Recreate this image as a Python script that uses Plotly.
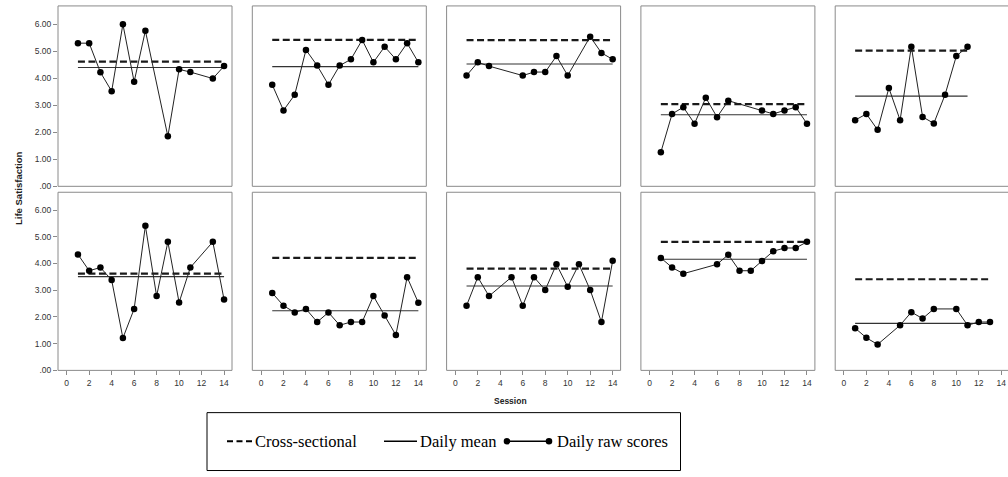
import plotly.graph_objects as go

# ---------------- data ----------------
sessions = [
    [1, 2, 3, 4, 5, 6, 7, 9, 10, 11, 13, 14],
    list(range(1, 15)),
    [1, 2, 3, 6, 7, 8, 9, 10, 12, 13, 14],
    [1, 2, 3, 4, 5, 6, 7, 10, 11, 12, 13, 14],
    list(range(1, 12)),
    [1, 2, 3, 4, 5, 6, 7, 8, 9, 10, 11, 13, 14],
    list(range(1, 15)),
    [1, 2, 3, 5, 6, 7, 8, 9, 10, 11, 12, 13, 14],
    [1, 2, 3, 6, 7, 8, 9, 10, 11, 12, 13, 14],
    [1, 2, 3, 5, 6, 7, 8, 10, 11, 12, 13],
]
raw_scores = [
    [5.30, 5.30, 4.22, 3.52, 6.00, 3.87, 5.76, 1.85, 4.33, 4.23, 3.99, 4.45],
    [3.76, 2.81, 3.39, 5.05, 4.47, 3.76, 4.47, 4.70, 5.42, 4.59, 5.17, 4.70, 5.30, 4.59],
    [4.10, 4.59, 4.45, 4.10, 4.23, 4.23, 4.82, 4.10, 5.54, 4.94, 4.70],
    [1.26, 2.68, 2.93, 2.32, 3.28, 2.56, 3.17, 2.81, 2.68, 2.81, 2.93, 2.32],
    [2.45, 2.68, 2.09, 3.64, 2.45, 5.17, 2.57, 2.33, 3.39, 4.82, 5.17],
    [4.34, 3.73, 3.85, 3.38, 1.21, 2.30, 5.41, 2.78, 4.81, 2.54, 3.85, 4.81, 2.65],
    [2.90, 2.42, 2.17, 2.30, 1.81, 2.17, 1.69, 1.81, 1.81, 2.78, 2.05, 1.32, 3.49, 2.53],
    [2.42, 3.49, 2.78, 3.49, 2.42, 3.49, 3.01, 3.97, 3.13, 3.97, 3.01, 1.81, 4.10],
    [4.21, 3.85, 3.62, 3.97, 4.33, 3.73, 3.73, 4.09, 4.46, 4.58, 4.58, 4.81],
    [1.58, 1.22, 0.97, 1.69, 2.18, 1.94, 2.30, 2.30, 1.69, 1.81, 1.81],
]
cross_sectional = [4.62, 5.42, 5.41, 3.04, 5.02, 3.62, 4.21, 3.81, 4.81, 3.41]
daily_mean = [4.40, 4.43, 4.53, 2.65, 3.34, 3.51, 2.23, 3.16, 4.16, 1.76]

y_ticks = [0, 1, 2, 3, 4, 5, 6]
y_tick_labels = [".00", "1.00", "2.00", "3.00", "4.00", "5.00", "6.00"]
x_ticks = [0, 2, 4, 6, 8, 10, 12, 14]

# ---------------- layout geometry ----------------
W, H = 1008, 477
def px(x):
    return x / W
def py(y):
    return 1 - y / H

BOX_GRAY = "#8a8a8a"
TICK_FONT = dict(family="Liberation Sans, Arial, sans-serif", size=8.5, color="#333333")

col_left = [58 + c * 194.3 for c in range(5)]
box_w = 174
row_top = [6, 194.3]
row_bot = [188.3, 374.3]
x_off = 8.7          # pixel offset of session 0 from box left
x_scale = 11.24      # px per session
y_scale = [27.3, 27.0]

fig = go.Figure()
layout = dict(
    width=W, height=H, margin=dict(l=0, r=0, t=0, b=0),
    paper_bgcolor="white", plot_bgcolor="white", showlegend=False,
)
shapes = []
annotations = []

for i in range(10):
    r, c = divmod(i, 5)
    L = col_left[c]
    R = L + box_w
    Rd = min(R, W)
    xr = [-x_off / x_scale, (Rd - L - x_off) / x_scale]
    yr = [0, (row_bot[r] - row_top[r]) / y_scale[r]]
    xk = "xaxis" if i == 0 else f"xaxis{i+1}"
    yk = "yaxis" if i == 0 else f"yaxis{i+1}"
    xa = "x" if i == 0 else f"x{i+1}"
    ya = "y" if i == 0 else f"y{i+1}"
    layout[xk] = dict(
        domain=[px(L), px(Rd)], range=xr, anchor=ya,
        showgrid=False, zeroline=False, showline=False,
        tickvals=x_ticks if r == 1 else [],
        ticks="outside" if r == 1 else "", ticklen=4, tickcolor=BOX_GRAY,
        tickfont=TICK_FONT, showticklabels=(r == 1), fixedrange=True,
        ticklabeloverflow="allow",
    )
    layout[yk] = dict(
        domain=[py(row_bot[r]), py(row_top[r])], range=yr, anchor=xa,
        showgrid=False, zeroline=False, showline=False,
        tickvals=y_ticks if c == 0 else [], ticktext=y_tick_labels if c == 0 else None,
        ticks="outside" if c == 0 else "", ticklen=4, tickcolor=BOX_GRAY,
        tickfont=TICK_FONT, showticklabels=(c == 0), fixedrange=True,
    )
    shapes.append(dict(type="rect", xref="paper", yref="paper",
                       x0=px(L), x1=px(R + 2 if c == 4 else R),
                       y0=py(row_bot[r]), y1=py(row_top[r]),
                       line=dict(color=BOX_GRAY, width=1), layer="above"))

    s = sessions[i]
    x_span = [min(s), max(s)]
    fig.add_trace(go.Scatter(
        x=x_span, y=[cross_sectional[i]] * 2, mode="lines", xaxis=xa, yaxis=ya,
        line=dict(color="#1a1a1a", width=2.2, dash="7px,3.5px"), hoverinfo="skip"))
    fig.add_trace(go.Scatter(
        x=x_span, y=[daily_mean[i]] * 2, mode="lines", xaxis=xa, yaxis=ya,
        line=dict(color="#333333", width=1.1), hoverinfo="skip"))
    fig.add_trace(go.Scatter(
        x=s, y=raw_scores[i], mode="lines+markers", xaxis=xa, yaxis=ya,
        line=dict(color="#222222", width=1),
        marker=dict(color="black", size=6.5), cliponaxis=False))

# axis titles
annotations.append(dict(text="<b>Life Satisfaction</b>", xref="paper", yref="paper",
                        x=px(18), y=py(190), textangle=-90, showarrow=False,
                        xanchor="center", yanchor="middle",
                        font=dict(family="Liberation Sans, Arial, sans-serif", size=9.5, color="#222")))
annotations.append(dict(text="<b>Session</b>", xref="paper", yref="paper",
                        x=px(510), y=py(405), showarrow=False,
                        xanchor="center", yanchor="middle",
                        font=dict(family="Liberation Sans, Arial, sans-serif", size=8.5, color="#222")))

# legend (drawn manually to match the reference layout)
LEG_Y = 446
LEG_FONT = dict(family="Liberation Serif, Times New Roman, serif", size=16.5, color="black")
shapes.append(dict(type="rect", xref="paper", yref="paper",
                   x0=px(207), x1=px(680.5), y0=py(475.5), y1=py(417),
                   line=dict(color="black", width=1)))
shapes.append(dict(type="line", xref="paper", yref="paper",
                   x0=px(227), x1=px(252), y0=py(LEG_Y), y1=py(LEG_Y),
                   line=dict(color="black", width=2, dash="6px,3.5px")))
shapes.append(dict(type="line", xref="paper", yref="paper",
                   x0=px(384), x1=px(417), y0=py(LEG_Y), y1=py(LEG_Y),
                   line=dict(color="black", width=1.5)))
shapes.append(dict(type="line", xref="paper", yref="paper",
                   x0=px(507), x1=px(549), y0=py(LEG_Y), y1=py(LEG_Y),
                   line=dict(color="black", width=1.5)))
for cx in (507, 549):
    shapes.append(dict(type="circle", xref="paper", yref="paper",
                       x0=px(cx - 3.3), x1=px(cx + 3.3), y0=py(LEG_Y + 3.3), y1=py(LEG_Y - 3.3),
                       fillcolor="black", line=dict(color="black", width=0)))
for tx, txt in ((253, "Cross-sectional"), (418, "Daily mean"), (555, "Daily raw scores")):
    annotations.append(dict(text=txt, xref="paper", yref="paper", x=px(tx), y=py(LEG_Y),
                            xanchor="left", yanchor="middle", showarrow=False, font=LEG_FONT))

layout["shapes"] = shapes
layout["annotations"] = annotations
fig.update_layout(**layout)
# remove the default 8px page margin so the figure sits at the window's top-left corner
fig.write_html("out.html",
               config={"displayModeBar": False},
               post_script="document.body.style.margin='0';document.body.style.overflow='hidden';")
